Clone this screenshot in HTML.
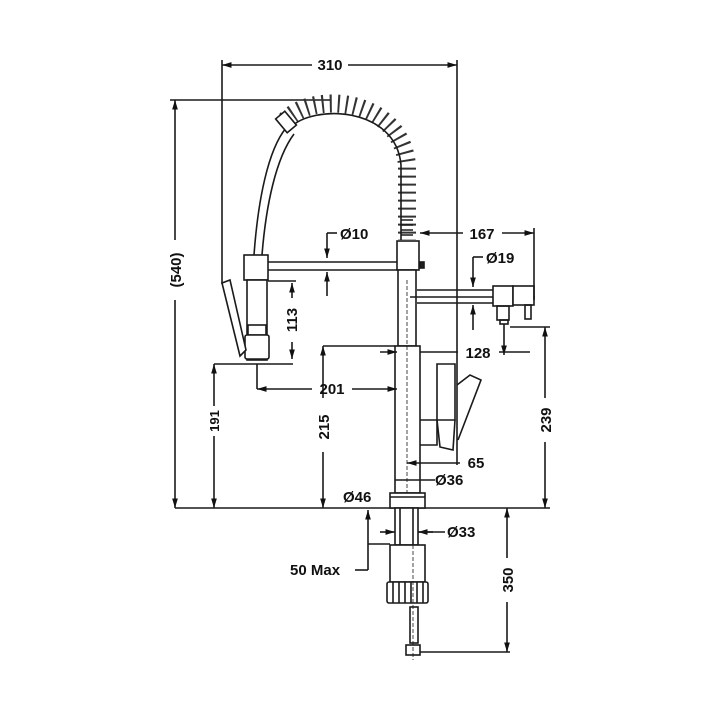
<!DOCTYPE html>
<html><head><style>
body{margin:0;background:#fff}
svg{display:block}
text{font-family:"Liberation Sans",Arial,sans-serif;font-weight:bold;fill:#111}
</style></head><body>
<svg width="720" height="720" viewBox="0 0 720 720" xmlns="http://www.w3.org/2000/svg">
<defs>
<marker id="a" viewBox="0 0 10 10" refX="10" refY="5" markerWidth="6" markerHeight="6" orient="auto-start-reverse"><path d="M0,2 L10,5 L0,8 z" fill="#111"/></marker>
</defs>
<g stroke="#1a1a1a" stroke-width="1.6" fill="none">
<line x1="222" y1="65" x2="312" y2="65" marker-start="url(#a)"/>
<line x1="348" y1="65" x2="457" y2="65" marker-end="url(#a)"/>
<line x1="222" y1="60" x2="222" y2="284"/>
<line x1="457" y1="60" x2="457" y2="465"/>
<line x1="175" y1="100" x2="175" y2="240" marker-start="url(#a)"/>
<line x1="175" y1="300" x2="175" y2="508" marker-end="url(#a)"/>
<line x1="170" y1="100" x2="330" y2="100"/>
<line x1="175" y1="508" x2="550" y2="508"/>
<path d="M286,128 C268,150 258,200 254,255"/>
<path d="M294,134 C276,158 266,205 262,255"/>
<path d="M286,120 C310,92 400,95 407,165 L407,240" stroke="#333" stroke-width="18" stroke-dasharray="2 6"/>
<path d="M290,128 C312,104 396,106 401,165 L401,240"/>
<path d="M401,220 L413,220 M401,225 L413,225 M401,230 L413,230 M401,235 L413,235"/>
<rect x="280" y="113" width="12" height="18" transform="rotate(-40 286 122)" fill="#fff"/>
<rect x="244" y="255" width="24" height="25" fill="#fff"/>
<path d="M268,262 L397,262 M268,270 L397,270"/>
<rect x="247" y="280" width="20" height="80" fill="#fff"/>
<rect x="248" y="325" width="18" height="10"/>
<rect x="245" y="335" width="24" height="24" rx="2" fill="#fff"/>
<path d="M222,283 L230,280 L246,350 L240,356 z" fill="#fff"/>
<rect x="397" y="241" width="22" height="29" fill="#fff"/>
<rect x="420" y="262" width="4" height="6" fill="#222"/>
<rect x="398" y="270" width="18" height="76" fill="#fff"/>
<rect x="395" y="346" width="25" height="147" fill="#fff"/>
<line x1="407" y1="280" x2="407" y2="500" stroke-dasharray="4 2" stroke-width="0.8"/>
<rect x="390" y="493" width="35" height="15" fill="#fff"/>
<path d="M417,290 L493,290 M417,303 L493,303 M410,297 L535,297"/>
<rect x="493" y="286" width="20" height="20" fill="#fff"/>
<rect x="513" y="286" width="21" height="19" fill="#fff"/>
<rect x="497" y="306" width="12" height="14"/>
<rect x="500" y="320" width="8" height="4"/>
<rect x="525" y="305" width="6" height="14"/>
<path d="M420,420 L437,420 L437,364 L455,364 L455,420 L437,420 M420,445 L437,445 L437,420"/>
<path d="M437,420 L440,447 L453,450 L455,420"/>
<path d="M457,385 L470,375 L481,380 L458,440"/>
<rect x="395" y="508" width="23" height="37" fill="#fff"/>
<line x1="400" y1="508" x2="400" y2="545"/><line x1="413" y1="508" x2="413" y2="545"/>
<rect x="390" y="545" width="35" height="37" fill="#fff"/>
<rect x="387" y="582" width="41" height="21" rx="2" fill="#fff"/>
<path d="M393,582 V603 M399,582 V603 M405,582 V603 M411,582 V603 M417,582 V603 M423,582 V603"/>
<rect x="410" y="607" width="8" height="36" fill="#fff"/>
<rect x="406" y="645" width="14" height="10" fill="#fff"/>
<line x1="413" y1="545" x2="413" y2="660" stroke-dasharray="4 2" stroke-width="0.8"/>
<line x1="327" y1="233" x2="327" y2="258" marker-end="url(#a)"/>
<line x1="327" y1="296" x2="327" y2="272" marker-end="url(#a)"/>
<line x1="327" y1="233" x2="337" y2="233"/>
<line x1="420" y1="233" x2="463" y2="233" marker-start="url(#a)"/>
<line x1="502" y1="233" x2="534" y2="233" marker-end="url(#a)"/>
<line x1="534" y1="228" x2="534" y2="300"/>
<line x1="473" y1="257" x2="473" y2="287" marker-end="url(#a)"/>
<line x1="473" y1="330" x2="473" y2="305" marker-end="url(#a)"/>
<line x1="473" y1="257" x2="483" y2="257"/>
<line x1="380" y1="352" x2="397" y2="352" marker-end="url(#a)"/>
<line x1="420" y1="352" x2="458" y2="352"/>
<line x1="499" y1="352" x2="530" y2="352"/>
<line x1="504" y1="324" x2="504" y2="355" marker-end="url(#a)"/>
<line x1="510" y1="327" x2="550" y2="327"/>
<line x1="545" y1="327" x2="545" y2="398" marker-start="url(#a)"/>
<line x1="545" y1="442" x2="545" y2="508" marker-end="url(#a)"/>
<line x1="292" y1="283" x2="292" y2="298" marker-start="url(#a)"/>
<line x1="292" y1="342" x2="292" y2="359" marker-end="url(#a)"/>
<line x1="268" y1="281" x2="296" y2="281"/>
<line x1="214" y1="364" x2="293" y2="364"/>
<line x1="214" y1="364" x2="214" y2="406" marker-start="url(#a)"/>
<line x1="214" y1="436" x2="214" y2="508" marker-end="url(#a)"/>
<line x1="257" y1="364" x2="257" y2="389"/>
<line x1="257" y1="389" x2="312" y2="389" marker-start="url(#a)"/>
<line x1="352" y1="389" x2="397" y2="389" marker-end="url(#a)"/>
<line x1="323" y1="346" x2="395" y2="346"/>
<line x1="323" y1="346" x2="323" y2="398" marker-start="url(#a)"/>
<line x1="323" y1="452" x2="323" y2="508" marker-end="url(#a)"/>
<line x1="407" y1="463" x2="460" y2="463" marker-start="url(#a)"/>
<line x1="395" y1="480" x2="435" y2="480"/>
<line x1="390" y1="497" x2="425" y2="497"/>
<line x1="368" y1="535" x2="368" y2="510" marker-end="url(#a)"/>
<line x1="368" y1="535" x2="368" y2="570"/>
<line x1="368" y1="544" x2="390" y2="544"/>
<line x1="355" y1="570" x2="368" y2="570"/>
<line x1="380" y1="532" x2="395" y2="532" marker-end="url(#a)"/>
<line x1="433" y1="532" x2="418" y2="532" marker-end="url(#a)"/>
<line x1="418" y1="532" x2="445" y2="532"/>
<line x1="420" y1="652" x2="510" y2="652"/>
<line x1="507" y1="508" x2="507" y2="558" marker-start="url(#a)"/>
<line x1="507" y1="602" x2="507" y2="652" marker-end="url(#a)"/>
</g>
<text x="330" y="70" font-size="15" text-anchor="middle">310</text>
<text x="181" y="270" font-size="15" text-anchor="middle" transform="rotate(-90 181 270)">(540)</text>
<text x="340" y="239" font-size="15">Ø10</text>
<text x="482" y="239" font-size="15" text-anchor="middle">167</text>
<text x="486" y="263" font-size="15">Ø19</text>
<text x="478" y="358" font-size="15" text-anchor="middle">128</text>
<text x="332" y="394" font-size="15" text-anchor="middle">201</text>
<text x="297" y="320" font-size="15" text-anchor="middle" transform="rotate(-90 297 320)">113</text>
<text x="219" y="421" font-size="13" font-weight="normal" text-anchor="middle" transform="rotate(-90 219 421)">191</text>
<text x="329" y="427" font-size="15" text-anchor="middle" transform="rotate(-90 329 427)">215</text>
<text x="551" y="420" font-size="15" text-anchor="middle" transform="rotate(-90 551 420)">239</text>
<text x="476" y="468" font-size="15" text-anchor="middle">65</text>
<text x="435" y="485" font-size="15">Ø36</text>
<text x="343" y="502" font-size="15">Ø46</text>
<text x="447" y="537" font-size="15">Ø33</text>
<text x="290" y="575" font-size="15">50 Max</text>
<text x="513" y="580" font-size="15" text-anchor="middle" transform="rotate(-90 513 580)">350</text>
</svg>
</body></html>
